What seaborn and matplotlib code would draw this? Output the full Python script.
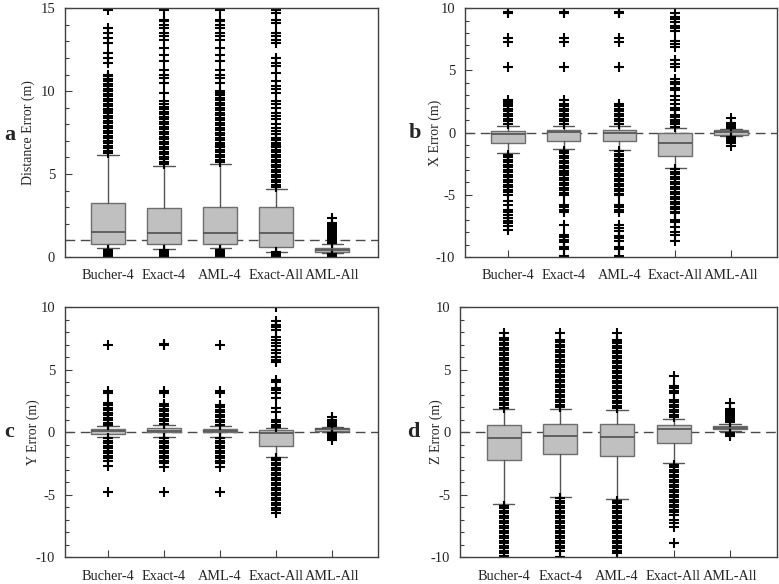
import numpy as np
import matplotlib
matplotlib.use("Agg")
import matplotlib.pyplot as plt
from matplotlib.ticker import MultipleLocator
import seaborn as sns

# --- data ---
labels = ["Bucher-4", "Exact-4", "AML-4", "Exact-All", "AML-All"]

# panel a : distance error
a_whislo = [0.52, 0.50, 0.52, 0.32, 0.22]
a_q1 = [0.78, 0.76, 0.76, 0.58, 0.28]
a_med = [1.49, 1.43, 1.43, 1.43, 0.40]
a_q3 = [3.23, 2.93, 2.99, 3.01, 0.52]
a_whishi = [6.13, 5.48, 5.58, 4.10, 0.77]
a_fliers = [
    [0.0, 0.1, 0.2, 0.3, 0.4,
     6.25, 6.4, 6.55, 6.7, 6.85, 7.0, 7.15, 7.3, 7.45, 7.6, 7.75, 7.9, 8.05, 8.2, 8.35, 8.5,
     8.65, 8.8, 8.95, 9.1, 9.25, 9.4, 9.55, 9.7, 9.85, 10.0, 10.15, 10.3, 10.45, 10.6,
     10.75, 10.9, 11.0, 11.7, 12.0, 12.3, 12.9, 13.2, 13.5, 13.8, 14.9],
    [0.0, 0.1, 0.2, 0.3, 0.4,
     5.6, 5.75, 5.9, 6.05, 6.2, 6.35, 6.5, 6.65, 6.8, 6.95, 7.1, 7.25, 7.4, 7.55, 7.7, 7.85,
     8.0, 8.15, 8.3, 8.45, 8.6, 8.75, 8.9, 9.05, 9.2, 9.4, 9.9, 10.5, 10.8, 11.0, 11.3,
     11.8, 12.2, 12.6, 13.1, 13.3, 13.5, 13.8, 14.0, 14.2, 14.3, 14.9],
    [0.0, 0.1, 0.2, 0.3, 0.4,
     5.7, 5.85, 6.0, 6.15, 6.3, 6.45, 6.6, 6.75, 6.9, 7.05, 7.2, 7.35, 7.5, 7.65, 7.8, 7.95,
     8.1, 8.25, 8.4, 8.55, 8.7, 8.85, 9.0, 9.15, 9.3, 9.45, 9.6, 9.75, 9.9, 10.0, 10.5,
     10.8, 11.0, 11.3, 11.8, 12.2, 12.6, 13.1, 13.3, 13.5, 13.8, 14.0, 14.2, 14.3, 14.9],
    [0.0, 0.1, 0.2, 0.3,
     4.2, 4.35, 4.5, 4.65, 4.8, 4.95, 5.1, 5.25, 5.4, 5.55, 5.7, 5.85, 6.0, 6.15, 6.3, 6.45,
     6.6, 6.75, 6.9, 7.05, 7.2, 7.4, 7.6, 7.8, 8.0, 8.3, 8.5, 8.7, 9.0, 9.2, 9.4, 9.9,
     10.1, 10.3, 10.6, 11.1, 11.5, 11.7, 12.0, 12.9, 13.1, 13.3, 13.5, 14.1, 14.3, 14.7, 14.9],
    [0.0, 0.06, 0.12, 0.18,
     0.85, 0.97, 1.09, 1.21, 1.33, 1.45, 1.57, 1.69, 1.81, 1.93, 2.05, 2.35],
]

# panel b : X error
b_whislo = [-1.65, -1.33, -1.38, -2.85, -0.30]
b_q1 = [-0.80, -0.66, -0.66, -1.89, -0.18]
b_med = [-0.12, 0.03, 0.0, -0.85, 0.02]
b_q3 = [0.12, 0.17, 0.17, 0.0, 0.17]
b_whishi = [0.55, 0.55, 0.55, 0.33, 0.30]
b_fliers = [
    [0.7, 0.9, 1.1, 1.3, 1.5, 1.7, 1.9, 2.1, 2.3, 2.45, 2.65, 5.3, 7.3, 7.6, 9.6, 9.7,
     -1.8, -2.0, -2.2, -2.4, -2.6, -2.8, -3.0, -3.2, -3.4, -3.6, -3.8, -4.0, -4.2, -4.4,
     -4.6, -4.8, -5.0, -5.5, -5.8, -6.2, -6.4, -6.6, -6.9, -7.1, -7.3, -7.5, -7.8],
    [0.7, 0.9, 1.1, 1.3, 1.5, 1.7, 1.9, 2.1, 2.3, 2.6, 5.3, 7.3, 7.6, 9.6, 9.7,
     -1.45, -1.65, -1.85, -2.05, -2.25, -2.45, -2.65, -2.85, -3.05, -3.25, -3.45, -3.65,
     -3.85, -4.05, -4.25, -4.45, -4.65, -4.85, -5.0, -5.8, -6.0, -6.2, -6.4, -7.4, -8.2,
     -8.4, -8.6, -8.8, -9.2, -9.4, -9.9],
    [0.7, 0.9, 1.1, 1.3, 1.5, 1.7, 1.9, 2.1, 2.3, 5.3, 7.3, 7.6, 9.6, 9.7,
     -1.5, -1.7, -1.9, -2.1, -2.3, -2.5, -2.7, -2.9, -3.1, -3.3, -3.5, -3.7, -3.9, -4.1,
     -4.3, -4.5, -4.7, -4.9, -5.0, -5.8, -6.0, -6.2, -6.4, -7.4, -7.7, -7.9, -8.3, -8.5,
     -8.7, -9.2, -9.4, -9.9],
    [0.45, 0.65, 0.85, 1.05, 1.25, 1.45, 1.8, 2.0, 2.3, 2.6, 2.9, 3.4, 3.6, 3.9, 4.1, 4.3,
     5.3, 5.5, 5.8, 6.9, 7.1, 7.4, 8.2, 8.4, 8.6, 8.9, 9.1, 9.3, 9.6,
     -2.95, -3.15, -3.35, -3.55, -3.75, -3.95, -4.15, -4.35, -4.55, -4.75, -4.95, -5.15,
     -5.35, -5.55, -5.75, -5.95, -6.15, -6.35, -6.5, -7.0, -7.2, -7.6, -8.0, -8.2, -8.7],
    [0.35, 0.5, 0.65, 0.8, 1.2, -0.35, -0.5, -0.65, -0.8, -1.05],
]

# panel c : Y error
c_whislo = [-0.42, -0.40, -0.40, -1.97, 0.02]
c_q1 = [-0.13, -0.02, 0.0, -1.10, 0.10]
c_med = [0.06, 0.10, 0.08, -0.10, 0.22]
c_q3 = [0.22, 0.30, 0.28, 0.16, 0.32]
c_whishi = [0.48, 0.55, 0.50, 0.30, 0.42]
c_fliers = [
    [0.55, 0.75, 0.95, 1.15, 1.35, 1.55, 1.75, 1.95, 2.15, 2.3, 3.1, 3.3, 7.0,
     -0.5, -0.7, -0.9, -1.1, -1.3, -1.5, -1.7, -1.9, -2.05, -2.3, -2.7, -4.8],
    [0.65, 0.85, 1.05, 1.25, 1.45, 1.65, 1.85, 2.05, 2.25, 3.1, 3.3, 6.95, 7.05,
     -0.5, -0.7, -0.9, -1.1, -1.3, -1.5, -1.7, -1.9, -2.05, -2.3, -2.5, -2.8, -4.8],
    [0.6, 0.8, 1.0, 1.2, 1.4, 1.6, 1.8, 2.0, 2.2, 3.1, 3.3, 7.0,
     -0.5, -0.7, -0.9, -1.1, -1.3, -1.5, -1.7, -1.9, -2.05, -2.3, -2.5, -2.8, -4.8],
    [0.4, 0.6, 0.8, 1.0, 1.6, 1.9, 2.7, 3.1, 3.4, 3.5, 4.0, 4.2, 5.6, 5.8, 6.0, 6.3, 6.6,
     6.9, 7.1, 7.4, 7.6, 8.2, 8.4, 8.6, 8.9, 10.0,
     -2.05, -2.25, -2.45, -2.65, -2.85, -3.05, -3.25, -3.45, -3.65, -3.85, -4.05, -4.25,
     -4.45, -4.65, -4.85, -5.05, -5.25, -5.45, -5.65, -5.85, -6.05, -6.25, -6.45],
    [0.5, 0.62, 0.74, 0.86, 0.98, 1.2, -0.05, -0.17, -0.29, -0.41, -0.5, -0.62],
]

# panel d : Z error
d_whislo = [-5.76, -5.20, -5.39, -2.45, 0.05]
d_q1 = [-2.27, -1.76, -1.92, -0.88, 0.22]
d_med = [-0.45, -0.35, -0.40, 0.24, 0.35]
d_q3 = [0.59, 0.67, 0.61, 0.59, 0.45]
d_whishi = [1.81, 1.87, 1.76, 1.07, 0.68]
d_fliers = [
    [1.95, 2.15, 2.35, 2.55, 2.75, 2.95, 3.15, 3.35, 3.55, 3.75, 3.95, 4.15, 4.35, 4.55,
     4.75, 4.95, 5.15, 5.35, 5.55, 5.75, 5.95, 6.15, 6.35, 6.55, 6.75, 6.95, 7.15, 7.35,
     7.5, 7.9,
     -5.9, -6.1, -6.3, -6.5, -6.7, -6.9, -7.1, -7.3, -7.5, -7.7, -7.9, -8.1, -8.3, -8.5,
     -8.7, -8.9, -9.1, -9.3, -9.5, -9.7, -9.9],
    [2.0, 2.2, 2.4, 2.6, 2.8, 3.0, 3.2, 3.4, 3.6, 3.8, 4.0, 4.2, 4.4, 4.6, 4.8, 5.0, 5.2,
     5.4, 5.6, 5.8, 6.0, 6.2, 6.4, 6.6, 6.8, 7.0, 7.2, 7.4, 7.9,
     -5.3, -5.5, -5.7, -5.9, -6.1, -6.3, -6.5, -6.7, -6.9, -7.1, -7.3, -7.5, -7.7, -7.9,
     -8.1, -8.3, -8.5, -8.7, -8.9, -9.1, -9.3, -9.5, -10.0],
    [1.9, 2.1, 2.3, 2.5, 2.7, 2.9, 3.1, 3.3, 3.5, 3.7, 3.9, 4.1, 4.3, 4.5, 4.7, 4.9, 5.1,
     5.3, 5.5, 5.7, 5.9, 6.1, 6.3, 6.5, 6.7, 6.9, 7.1, 7.3, 7.4, 7.9,
     -5.5, -5.7, -5.9, -6.1, -6.3, -6.5, -6.7, -6.9, -7.1, -7.3, -7.5, -7.7, -7.9, -8.1,
     -8.3, -8.5, -8.7, -8.9, -9.1, -9.3, -9.5, -9.7],
    [1.2, 1.4, 1.6, 1.8, 2.0, 2.2, 2.4, 2.6, 3.1, 3.3, 3.5, 3.7, 4.5,
     -2.6, -2.8, -3.0, -3.2, -3.4, -3.6, -3.8, -4.0, -4.2, -4.4, -4.6, -4.8, -5.0, -5.2,
     -5.4, -5.6, -5.8, -6.0, -6.2, -6.4, -6.6, -7.0, -7.3, -7.6, -8.9],
    [0.8, 0.95, 1.1, 1.25, 1.4, 1.55, 1.7, 1.85, 2.3, -0.05, -0.2, -0.35],
]

panels = [
    ("a", "Distance Error (m)", a_whislo, a_q1, a_med, a_q3, a_whishi, a_fliers, (0, 15), 1.0),
    ("b", "X Error (m)", b_whislo, b_q1, b_med, b_q3, b_whishi, b_fliers, (-10, 10), 0.0),
    ("c", "Y Error (m)", c_whislo, c_q1, c_med, c_q3, c_whishi, c_fliers, (-10, 10), 0.0),
    ("d", "Z Error (m)", d_whislo, d_q1, d_med, d_q3, d_whishi, d_fliers, (-10, 10), 0.0),
]

sns.set_style("ticks")
plt.rcParams["font.family"] = ["Liberation Serif", "DejaVu Serif"]
plt.rcParams["axes.unicode_minus"] = False

fig = plt.figure(figsize=(7.79, 5.84), dpi=100)
rects = [
    [0.0834, 0.560, 0.402, 0.426],
    [0.597, 0.560, 0.400, 0.426],
    [0.0834, 0.0462, 0.402, 0.428],
    [0.5905, 0.0462, 0.4065, 0.428],
]
label_x = [-0.096, -0.074, -0.080, -0.054]
letter_pos = [(0.005, 0.769), (0.525, 0.772), (0.005, 0.26), (0.523, 0.26)]

for i, (letter, ylab, wlo, q1, med, q3, whi, fl, ylim, ref) in enumerate(panels):
    ax = fig.add_axes(rects[i])
    stats = []
    for j in range(len(labels)):
        stats.append(dict(label=labels[j], whislo=wlo[j], q1=q1[j], med=med[j],
                          q3=q3[j], whishi=whi[j], fliers=fl[j]))
    ax.axhline(ref, color="#4a4a4a", lw=1.0, ls=(0, (7, 4)), zorder=1)
    ax.bxp(stats, positions=range(1, 6), widths=0.6, patch_artist=True,
           capwidths=0.38, showfliers=True,
           boxprops=dict(facecolor="#c0c0c0", edgecolor="#6e6e6e", lw=1.0),
           medianprops=dict(color="#505050", lw=1.2),
           whiskerprops=dict(color="#555555", lw=1.0),
           capprops=dict(color="#555555", lw=1.0),
           flierprops=dict(marker="+", markersize=7, markeredgecolor="black",
                           markeredgewidth=1.5, linestyle="none"))
    ax.set_xlim(0.23, 5.82)
    ax.set_ylim(*ylim)
    ax.yaxis.set_major_locator(MultipleLocator(5))
    ax.yaxis.set_minor_locator(MultipleLocator(1))
    ax.set_xticks(range(1, 6))
    ax.set_xticklabels(labels)
    ax.tick_params(axis="both", which="major", direction="in", length=5, width=0.8,
                   color="#404040", labelsize=10.5, pad=7)
    ax.tick_params(axis="y", which="minor", direction="in", length=3, width=0.8,
                   color="#404040")
    ax.tick_params(axis="x", pad=9, labelsize=10.3)
    for s in ax.spines.values():
        s.set_color("#404040")
        s.set_linewidth(1.0)
    ax.set_ylabel(ylab, fontsize=10)
    ax.yaxis.set_label_coords(label_x[i], 0.5)
    fig.text(letter_pos[i][0], letter_pos[i][1], letter, fontsize=16,
             fontweight="bold", ha="left", va="center")

fig.savefig("out.png", dpi=100)
